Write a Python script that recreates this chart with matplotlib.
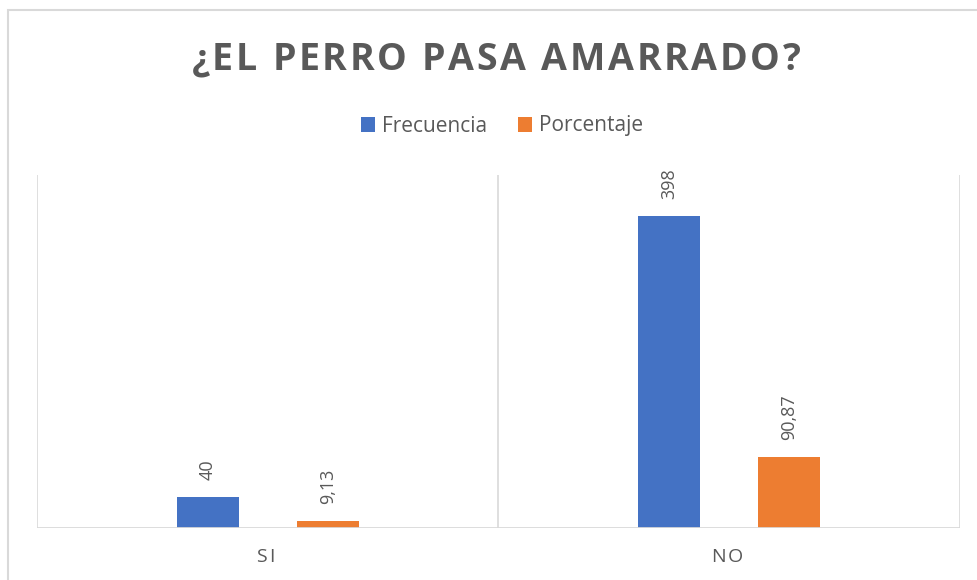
import numpy as np
import matplotlib
matplotlib.use("Agg")
import matplotlib.pyplot as plt
from matplotlib.patches import Rectangle

# data
categorias = ["SI", "NO"]
frecuencia = [40, 398]
porcentaje = [9.13, 90.87]
etiquetas_frec = ["40", "398"]
etiquetas_porc = ["9,13", "90,87"]

AZUL = "#4472C4"
NARANJA = "#ED7D31"
GRIS = "#595959"
LINEA = "#D9D9D9"

plt.rcParams['font.family'] = ['Open Sans', 'DejaVu Sans']

W, H = 978, 580
fig = plt.figure(figsize=(W / 100, H / 100), dpi=100)
renderer = fig.canvas.get_renderer()


def spaced_text(x_px, y_px, s, gap_px, **kw):
    # draw a string letter by letter with extra spacing (centred on x_px)
    widths = []
    for ch in s:
        t = fig.text(0, 0, ch, **kw)
        widths.append(t.get_window_extent(renderer).width)
        t.remove()
    total = sum(widths) + gap_px * (len(s) - 1)
    x = x_px - total / 2
    for ch, w in zip(s, widths):
        fig.text(x / W, 1 - y_px / H, ch, ha="left", va="center", **kw)
        x += w + gap_px


# chart frame
fig.patches.append(Rectangle((8 / W, -0.05), 1.1, 1 - 10 / H + 0.05,
                             transform=fig.transFigure, fill=False,
                             edgecolor=LINEA, linewidth=1.5))

ax = fig.add_axes([37 / W, 1 - 528 / H, (960 - 37) / W, (528 - 175) / H])
x = np.arange(len(categorias))
ancho = 0.135
off = 0.13
b1 = ax.bar(x - off, frecuencia, ancho, color=AZUL, label="Frecuencia", zorder=3)
b2 = ax.bar(x + off, porcentaje, ancho, color=NARANJA, label="Porcentaje", zorder=3)

ax.set_xlim(-0.5, 1.5)
ax.set_ylim(0, 450)
ax.set_yticks([])
ax.set_xticks([])
for v in [-0.5, 0.5, 1.5]:
    ax.axvline(v, color=LINEA, linewidth=1.2, zorder=1)
for s in ax.spines.values():
    s.set_visible(False)
ax.axhline(0, color=LINEA, linewidth=2, zorder=4)

# value labels above each bar
for barras, textos in [(b1, etiquetas_frec), (b2, etiquetas_porc)]:
    for b, t in zip(barras, textos):
        ax.annotate(t, (b.get_x() + b.get_width() / 2, b.get_height()),
                    xytext=(0, 12), textcoords="offset points",
                    rotation=90, ha="center", va="bottom",
                    fontsize=13, color=GRIS)

# category labels
for i, c in enumerate(categorias):
    xp = ax.transData.transform((x[i], 0))[0]
    spaced_text(xp - 2, 557, c, 2.5, fontsize=14, color=GRIS)

# title
spaced_text(496, 60, "¿EL PERRO PASA AMARRADO?", 2.7,
            fontsize=27, fontweight="bold", color=GRIS)

fig.legend(handles=[b1, b2], loc="center", bbox_to_anchor=(502 / W, 1 - 126 / H),
           ncol=2, frameon=False, fontsize=15, labelcolor=GRIS,
           handlelength=0.68, handleheight=0.7, handletextpad=0.3,
           columnspacing=1.5)

fig.savefig("out.png", dpi=100)
